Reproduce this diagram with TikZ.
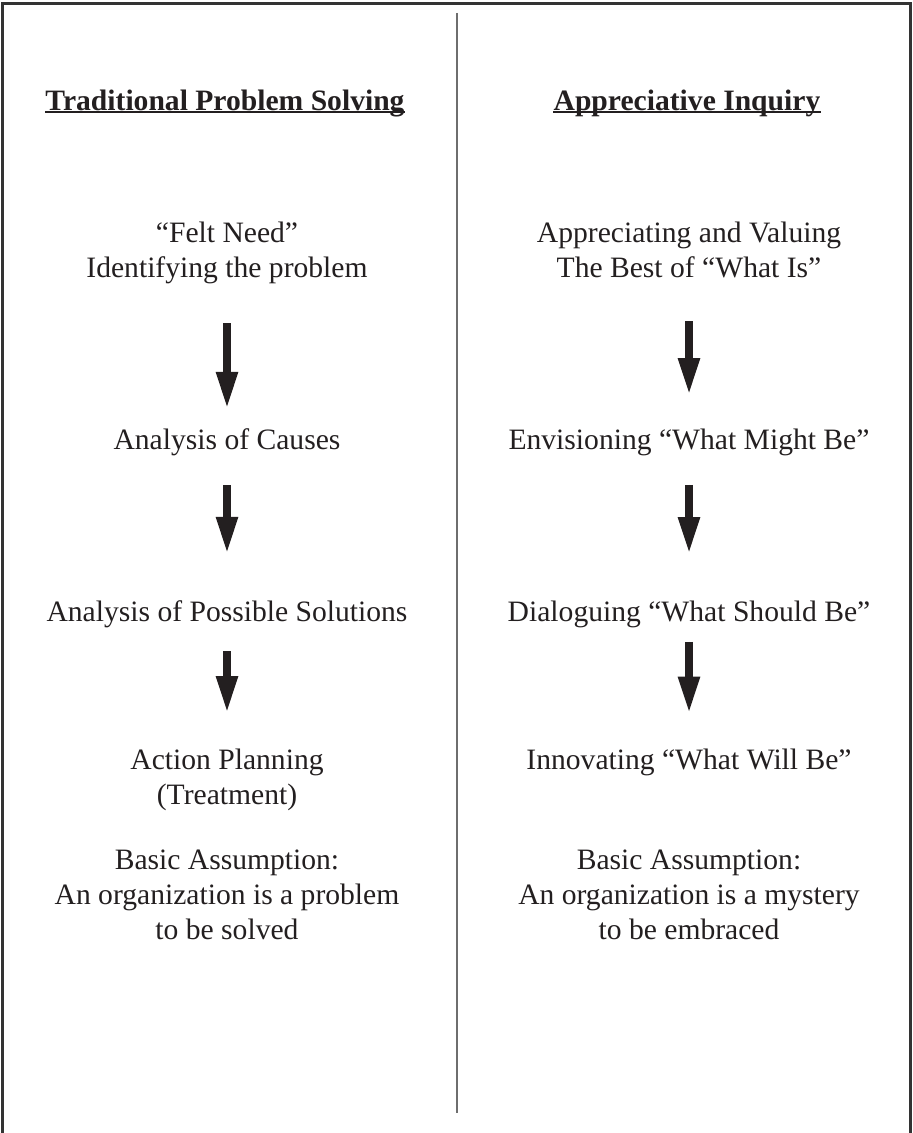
\documentclass[tikz,border=0pt]{standalone}
\usepackage{fontspec}
\setmainfont{Liberation Serif}
\usetikzlibrary{arrows.meta}
\definecolor{ink}{HTML}{231F20}
\definecolor{framegray}{HTML}{333333}
\definecolor{midgray}{HTML}{6E6E6E}

\begin{document}
\begin{tikzpicture}[
    x=0.5pt, y=-0.5pt,
    font=\fontsize{14.8}{17.5}\selectfont, text=ink,
    txt/.style={align=center, inner sep=0pt},
    ttl/.style={inner sep=0pt, anchor=base, font=\fontsize{14.8}{17.5}\selectfont\bfseries},
    uline/.style={draw=ink, line width=1pt},
    arr/.style 2 args={-{Triangle[width=10pt, length=18.5pt]}, line width=4pt,
                       draw=ink, fill=ink, shorten <=#1, shorten >=#2},
    frame/.style={draw=framegray, line width=1.5pt},
    divline/.style={draw=midgray, line width=1pt}
]
  \useasboundingbox (0,0) rectangle (912,1133);

  % ================= frame and divider =================
  \draw[frame] (2.5,1133) -- (2.5,3.5) -- (910,3.5) -- (910,1133);
  \draw[divline] (457,13) -- (457,1113);

  % ================= left: traditional problem solving =================
  \node[ttl] (titleL) at (225,110.5) {Traditional Problem Solving};
  \draw[uline] ([yshift=-1pt]titleL.base west) -- ([yshift=-1pt]titleL.base east);
  \node[txt] (feltneed)  at (227,253) {“Felt Need”\\Identifying the problem};
  \node[txt] (causes)    at (227,442) {Analysis of Causes};
  \node[txt] (solutions) at (227,614) {Analysis of Possible Solutions};
  \node[txt] (action)    at (227,779.5) {Action Planning\\(Treatment)};
  \node[txt] (basicL)    at (227,895) {Basic Assumption:\\An organization is a problem\\to be solved};

  \draw[arr={19.5pt}{9.5pt}] (feltneed.south) -- (causes.north);
  \draw[arr={14.5pt}{23pt}] (causes.south) -- (solutions.north);
  \draw[arr={11.5pt}{17.5pt}] (solutions.south) -- (action.north);

  % ================= right: appreciative inquiry =================
  \node[ttl] (titleR) at (687,110.5) {Appreciative Inquiry};
  \draw[uline] ([yshift=-1pt]titleR.base west) -- ([yshift=-1pt]titleR.base east);
  \node[txt] (appreciate) at (689,250) {Appreciating and Valuing\\The Best of “What Is”};
  \node[txt] (envision)   at (689,442) {Envisioning “What Might Be”};
  \node[txt] (dialogue)   at (689,614) {Dialoguing “What Should Be”};
  \node[txt] (innovate)   at (689,762.5) {Innovating “What Will Be”};
  \node[txt] (basicR)     at (689,895) {Basic Assumption:\\An organization is a mystery\\to be embraced};

  \draw[arr={21.5pt}{16.5pt}] (appreciate.south) -- (envision.north);
  \draw[arr={14.5pt}{23pt}] (envision.south) -- (dialogue.north);
  \draw[arr={7pt}{17.5pt}] (dialogue.south) -- (innovate.north);

\end{tikzpicture}
\end{document}
